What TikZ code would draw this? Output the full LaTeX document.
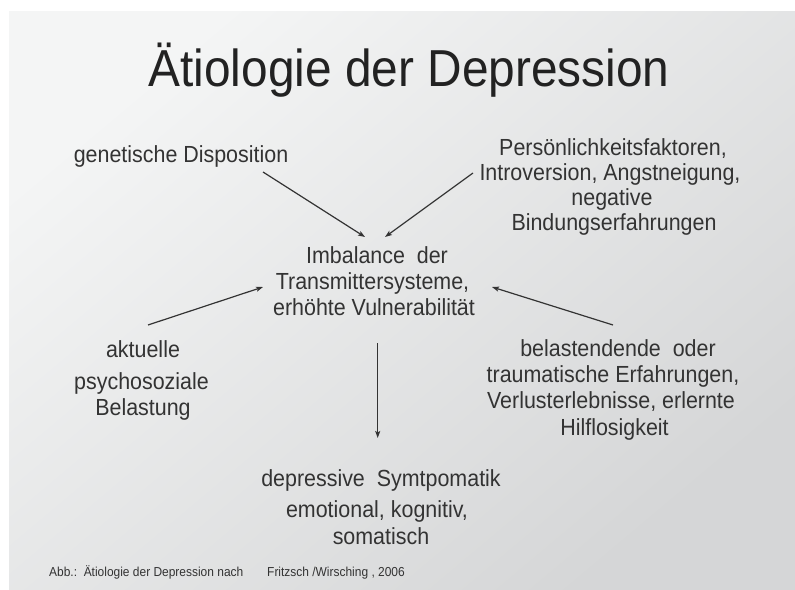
\documentclass[tikz,border=0pt]{standalone}
\usepackage{fontspec}
\setmainfont[FakeStretch=0.92]{Liberation Sans}
\usetikzlibrary{arrows.meta}
\definecolor{txt}{HTML}{333333}
\definecolor{ttl}{HTML}{222222}
\definecolor{bgA}{HTML}{F4F5F5}
\definecolor{bgB}{HTML}{D5D6D7}
\tikzset{
  line/.style={inner sep=0pt, anchor=base, text=txt, font=\fontsize{23.3}{26}\selectfont},
  ttlstyle/.style={inner sep=0pt, anchor=base, text=ttl, font=\fontsize{52}{60}\selectfont},
  foot/.style={inner sep=0pt, anchor=base west, text=txt, font=\fontsize{13}{15}\selectfont},
  arr/.style={draw=txt, line width=1.2pt, -{Stealth[length=7pt,width=5pt,inset=1.5pt]}}
}
\begin{document}
\begin{tikzpicture}[x=1pt,y=-1pt]
\useasboundingbox (0,0) rectangle (795,589);
\fill[white] (0,0) rectangle (795,589);
\shade[top color=bgA, bottom color=bgB, shading angle=40] (9,11) rectangle (795,589);

% title
\node[ttlstyle] (title) at (409,86.4) {Ätiologie der Depression};

% genetische Disposition
\node[line] (gen) at (181,162) {genetische Disposition};

% Persoenlichkeitsfaktoren
\node[line] (pers1) at (613,155) {Persönlichkeitsfaktoren,};
\node[line] (pers2) at (610,180.5) {Introversion, Angstneigung,};
\node[line] (pers3) at (612,205.5) {negative};
\node[line] (pers4) at (614,230.5) {Bindungserfahrungen};

% center
\node[line] (imb1) at (377,263) {Imbalance\ \ der};
\node[line] (imb2) at (372.5,289) {Transmittersysteme,};
\node[line] (imb3) at (374,315) {erhöhte Vulnerabilität};

% aktuelle
\node[line] (akt1) at (143,357) {aktuelle};
\node[line] (akt2) at (141.5,389) {psychosoziale};
\node[line] (akt3) at (143,415) {Belastung};

% belastende
\node[line] (bel1) at (618,356) {belastendende\ \ oder};
\node[line] (bel2) at (613,382) {traumatische Erfahrungen,};
\node[line] (bel3) at (611,408) {Verlusterlebnisse, erlernte};
\node[line] (bel4) at (614.5,435) {Hilflosigkeit};

% depressive
\node[line] (dep1) at (381,486) {depressive\ \ Symtpomatik};
\node[line] (dep2) at (377,517) {emotional, kognitiv,};
\node[line] (dep3) at (381,544) {somatisch};

% footer
\node[foot] (foot1) at (49,576) {Abb.:\ \ Ätiologie der Depression nach};
\node[foot] (foot2) at (267,576) {Fritzsch /Wirsching , 2006};

% arrow end points
\coordinate (genS) at (263,172);
\coordinate (genE) at (365,237);
\coordinate (persS) at (473,173);
\coordinate (persE) at (385,237);
\coordinate (aktS) at (148,325);
\coordinate (aktE) at (263,287);
\coordinate (belS) at (613,325);
\coordinate (belE) at (492,287);
\coordinate (downS) at (377.7,343);
\coordinate (downE) at (377.7,438);

\draw[arr] (genS) -- (genE);
\draw[arr] (persS) -- (persE);
\draw[arr] (aktS) -- (aktE);
\draw[arr] (belS) -- (belE);
\draw[arr] (downS) -- (downE);
\end{tikzpicture}
\end{document}
